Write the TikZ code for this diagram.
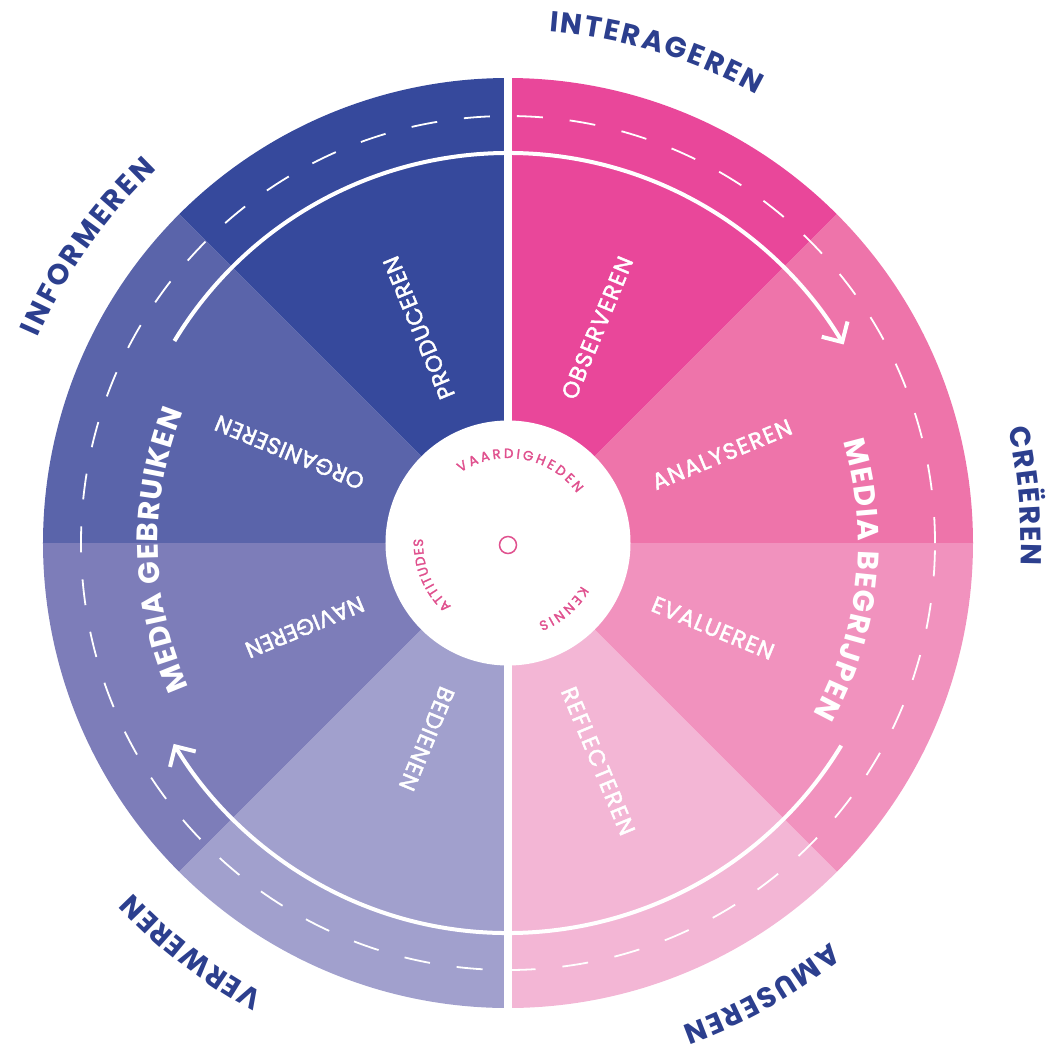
\documentclass[tikz,border=0pt]{standalone}
\usepackage{fontspec}
\newfontfamily\wheelfont{Poppins}
\newfontfamily\wheelmedium[FakeBold=2]{Poppins}
\usepackage{xcolor}
\definecolor{ringblue}{HTML}{2C3F8E}
\definecolor{corepink}{HTML}{E0508E}
\definecolor{produceren}{HTML}{36499C}
\definecolor{organiseren}{HTML}{5A64AA}
\definecolor{navigeren}{HTML}{7D7DB9}
\definecolor{bedienen}{HTML}{A1A0CD}
\definecolor{observeren}{HTML}{E9479A}
\definecolor{analyseren}{HTML}{EE74AA}
\definecolor{evalueren}{HTML}{F192BE}
\definecolor{reflecteren}{HTML}{F3B6D5}
\usepackage{tikz}
\usetikzlibrary{arrows.meta,decorations.text}

\newcommand{\ringfont}{\wheelfont\bfseries\fontsize{8.2}{9}\selectfont\color{ringblue}}
\newcommand{\mediafont}{\wheelfont\bfseries\fontsize{8.4}{9}\selectfont\color{white}}
\newcommand{\skillfont}{\wheelmedium\fontsize{6.5}{7}\selectfont\color{white}}
\newcommand{\corefont}{\wheelmedium\fontsize{3.8}{4}\selectfont\color{corepink}}

\tikzset{
  flowarrow/.style={white, line width=0.4mm, -{Straight Barb[length=1.5mm,width=3mm]}},
  roadline/.style={white, line width=0.18mm, dash pattern=on 0.26cm off 0.27cm}
}

\begin{document}
\begin{tikzpicture}
  \useasboundingbox (-5.08,-5.04) rectangle (5.40,5.43);
  \foreach \a/\c in {90/produceren, 135/organiseren, 180/navigeren, 225/bedienen,
                     45/observeren, 0/analyseren, -45/evalueren, -90/reflecteren} {
    \fill[\c] (0,0) -- (\a:4.65) arc[start angle=\a, end angle=\a+45, radius=4.65] -- cycle;
  }
  \draw[roadline] (0,0) circle[radius=4.27];
  \draw[flowarrow] (148.8:3.9) arc[start angle=148.8, end angle=30.6, radius=3.9];
  \draw[flowarrow] (-31.3:3.9) arc[start angle=-31.3, end angle=-149, radius=3.9];
  \draw[white, line width=0.8mm] (0,4.7) -- (0,-4.7);
  \fill[white] (0,0) circle[radius=1.225];
  \draw[corepink, line width=0.15mm] (0,-0.02) circle[radius=0.085];
  % vaardigheden
  \foreach \a/\len/\word in {112.5/1.52/PRODUCEREN, 67.5/1.52/OBSERVEREN, 22.5/1.49/ANALYSEREN,
                             -22.5/1.30/EVALUEREN, -67.5/1.58/REFLECTEREN, -112.5/1.10/BEDIENEN,
                             -157.5/1.26/NAVIGEREN, 157.5/1.59/ORGANISEREN} {
    \path[decorate, decoration={text along path, text align=fit to path, raise=-0.08cm,
          text/.expanded={|\noexpand\skillfont|\word}}] (\a:1.57) -- (\a:1.57+\len);
  }
  % mediawijsheid
  \foreach \from/\to/\word in {204.3/158.0/MEDIA GEBRUIKEN, 16.8/-29.2/MEDIA BEGRIJPEN} {
    \path[decorate, decoration={text along path, text align=fit to path,
          text/.expanded={|\noexpand\mediafont|\word}}]
      (\from:3.50) arc[start angle=\from, end angle=\to, radius=3.50];
  }
  % doelen
  \foreach \from/\to/\word in {85.4/61.0/INTERAGEREN, 12.9/-2.5/CREËREN, -51.1/-70.2/AMUSEREN,
                               241.5/223.0/VERWEREN, 156.4/133.2/INFORMEREN} {
    \path[decorate, decoration={text along path, text align=fit to path,
          text/.expanded={|\noexpand\ringfont|\word}}]
      (\from:5.13) arc[start angle=\from, end angle=\to, radius=5.13];
  }
  % kern
  \foreach \from/\to/\word in {123.9/35.9/VAARDIGHEDEN, -30.3/-69.1/KENNIS, 228.1/177.2/ATTITUDES} {
    \path[decorate, decoration={text along path, text align=fit to path,
          text/.expanded={|\noexpand\corefont|\word}}]
      (\from:0.85) arc[start angle=\from, end angle=\to, radius=0.85];
  }
\end{tikzpicture}
\end{document}
